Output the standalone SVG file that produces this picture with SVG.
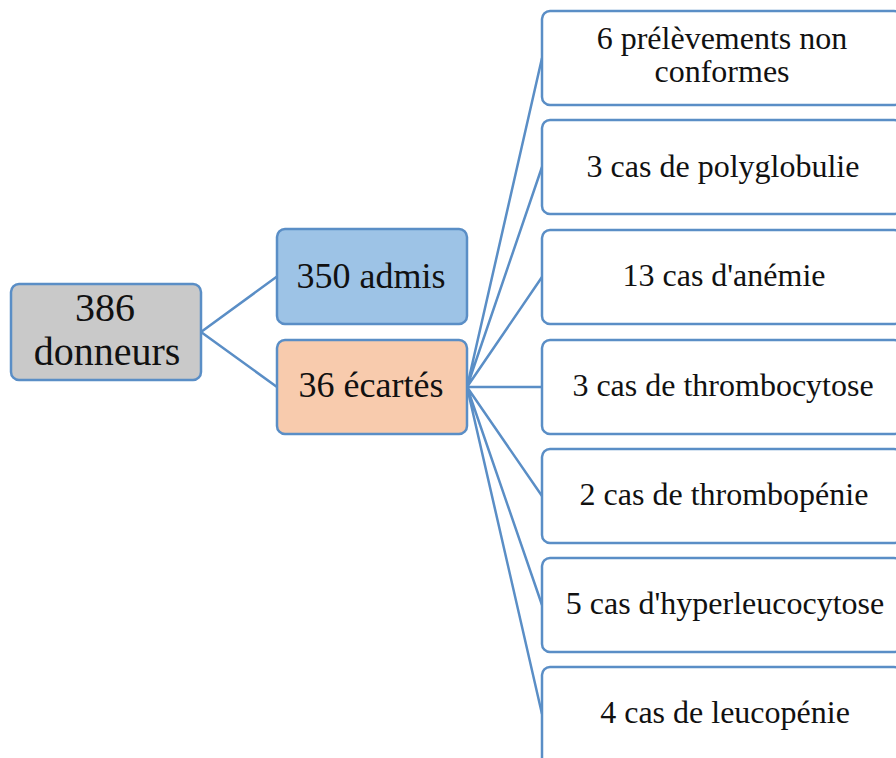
<svg xmlns="http://www.w3.org/2000/svg" width="896" height="758" viewBox="0 0 896 758">
<style>
.box{stroke:#5a8ec6;stroke-width:2.5}
.c{fill:none;stroke:#5a8ec6;stroke-width:2.5}
text{fill:#111;text-anchor:middle}
</style>
<rect width="896" height="758" fill="#fff"/>
<g id="connectors">
<path class="c" d="M201,332 L277,276.5 M201,332 L277,387"/>
<path class="c" d="M467,387 L542,58 M467,387 L542,167 M467,387 L542,277 M467,387 L542,387 M467,387 L542,496 M467,387 L542,605 M467,387 L542,714"/>
</g>
<g id="root">
<rect class="box" x="11" y="284" width="190" height="96" rx="8" fill="#c9c9c9"/>
<text font-family="Liberation Serif" font-size="40" x="105" y="321">386</text>
<text font-family="Liberation Serif" font-size="40" x="107" y="365">donneurs</text>
</g>
<g id="admis">
<rect class="box" x="277" y="229" width="190" height="95" rx="8" fill="#9dc3e6"/>
<text font-family="Liberation Serif" font-size="36" x="371" y="288">350 admis</text>
</g>
<g id="ecartes">
<rect class="box" x="277" y="340" width="190" height="94" rx="8" fill="#f8cbad"/>
<text font-family="Liberation Serif" font-size="36" x="371" y="397">36 écartés</text>
</g>
<g id="n1">
<rect class="box" x="542" y="11" width="360" height="94" rx="8" fill="#fff"/>
<text font-family="Liberation Serif" font-size="32" x="722" y="49">6 prélèvements non</text>
<text font-family="Liberation Serif" font-size="32" x="722" y="82">conformes</text>
</g>
<g id="n2">
<rect class="box" x="542" y="120" width="360" height="94" rx="8" fill="#fff"/>
<text font-family="Liberation Serif" font-size="32" x="723" y="177">3 cas de polyglobulie</text>
</g>
<g id="n3">
<rect class="box" x="542" y="230" width="360" height="94" rx="8" fill="#fff"/>
<text font-family="Liberation Serif" font-size="32" x="724" y="286">13 cas d'anémie</text>
</g>
<g id="n4">
<rect class="box" x="542" y="340" width="360" height="94" rx="8" fill="#fff"/>
<text font-family="Liberation Serif" font-size="32" x="723" y="396">3 cas de thrombocytose</text>
</g>
<g id="n5">
<rect class="box" x="542" y="449" width="360" height="94" rx="8" fill="#fff"/>
<text font-family="Liberation Serif" font-size="32" x="724" y="505">2 cas de thrombopénie</text>
</g>
<g id="n6">
<rect class="box" x="542" y="558" width="360" height="94" rx="8" fill="#fff"/>
<text font-family="Liberation Serif" font-size="32" x="725" y="614">5 cas d'hyperleucocytose</text>
</g>
<g id="n7">
<rect class="box" x="542" y="667" width="360" height="100" rx="8" fill="#fff"/>
<text font-family="Liberation Serif" font-size="32" x="725" y="723">4 cas de leucopénie</text>
</g>
</svg>
